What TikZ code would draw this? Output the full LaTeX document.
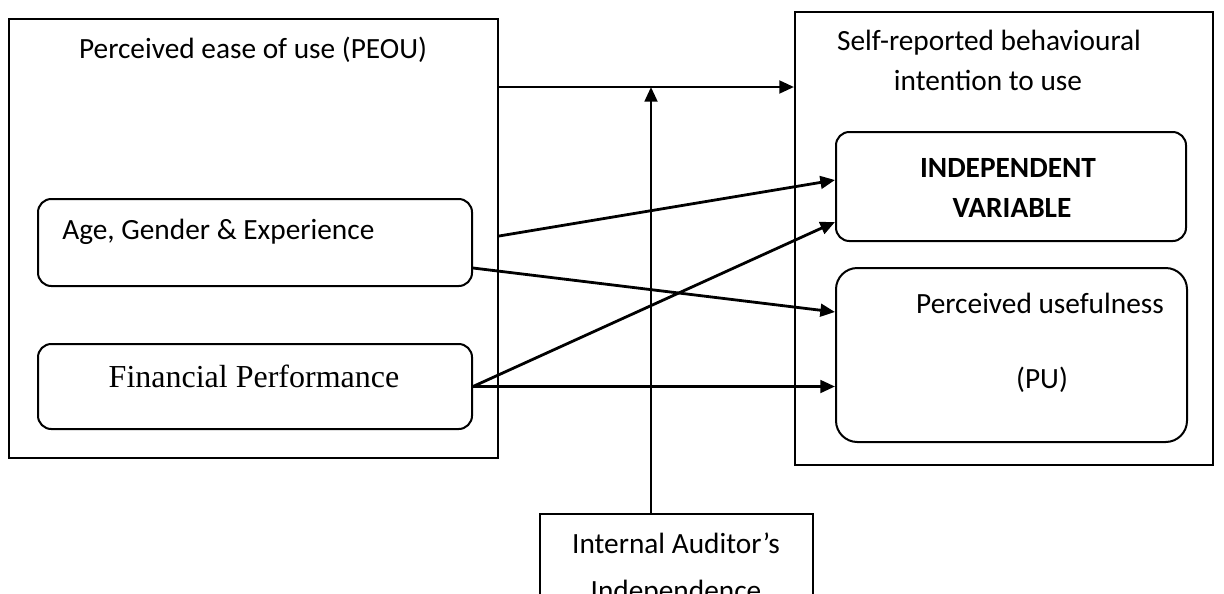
\documentclass[tikz,border=0pt]{standalone}
\usepackage{fontspec}
\setmainfont{Carlito}
\newfontfamily\tnr{Liberation Serif}
\usetikzlibrary{arrows.meta}
\begin{document}
\begin{tikzpicture}[x=0.75pt,y=-0.75pt,
  frame/.style={draw,line width=1.5pt,inner sep=0pt},
  rbox/.style={draw,line width=1.5pt,rounded corners=10pt,inner sep=0pt},
  txt/.style={inner sep=0pt,anchor=base,font=\fontsize{22}{29}\selectfont},
  arr/.style={line width=2.1pt,-{Triangle[length=11pt,width=9.5pt]}}]
\useasboundingbox (0,0) rectangle (1224,593);
\clip (0,0) rectangle (1224,593);
% boxes
\node[frame,minimum width=366.75pt,minimum height=329.25pt] (lbox) at (253.5,238.5) {};
\node[frame,minimum width=313.5pt,minimum height=339.75pt] (rbox) at (1004,238.5) {};
\node[rbox,minimum width=325.5pt,minimum height=65.25pt] (age) at (255,242.5) {};
\node[rbox,minimum width=325.5pt,minimum height=63.75pt] (fin) at (255,386.5) {};
\node[rbox,minimum width=262.5pt,minimum height=81.75pt] (indep) at (1011,186.5) {};
\node[rbox,rounded corners=16pt,minimum width=263.25pt,minimum height=130.5pt] (pu) at (1011.5,355) {};
\node[frame,minimum width=204.75pt,minimum height=83.25pt] (ibox) at (676.5,569.5) {};
% texts
\node[txt] (tpeou) at (253,58) {Perceived ease of use (PEOU)};
\node[txt,anchor=base west] (tage) at (62,239) {Age, Gender \& Experience};
\node[txt,font=\tnr\fontsize{24}{29}\selectfont] (tfin) at (254,387) {Financial Performance};
\node[txt] (tsr1) at (989,50) {Self-reported behavioural};
\node[txt] (tsr2) at (988,90) {intention to use};
\node[txt,font=\fontsize{22}{29}\selectfont\bfseries] (tind1) at (1008,177) {INDEPENDENT};
\node[txt,font=\fontsize{22}{29}\selectfont\bfseries] (tind2) at (1012,217) {VARIABLE};
\node[txt] (tpu1) at (1040,313) {Perceived usefulness};
\node[txt] (tpu2) at (1042,388) {(PU)};
\node[txt] (tia1) at (676,553) {Internal Auditor’s};
\node[txt] (tia2) at (676,600) {Independence};
% helper coordinates
\coordinate (yTop) at (0,87);
\coordinate (junction) at (651,87);
\coordinate (yA1) at (0,236);
\coordinate (yA2) at (0,268);
\coordinate (yI1) at (0,180);
\coordinate (yI2) at (0,222);
\coordinate (yP1) at (0,312);
% connectors
\draw[arr] (lbox.east |- yTop) -- (rbox.west |- yTop);
\draw[arr] (ibox.north -| junction) -- (junction);
\draw[arr] (lbox.east |- yA1) -- (indep.west |- yI1);
\draw[arr] (age.east |- yA2) -- (pu.west |- yP1);
\draw[arr] (fin.east) -- (indep.west |- yI2);
\draw[arr] (fin.east) -- (pu.west |- fin.east);
\end{tikzpicture}
\end{document}
